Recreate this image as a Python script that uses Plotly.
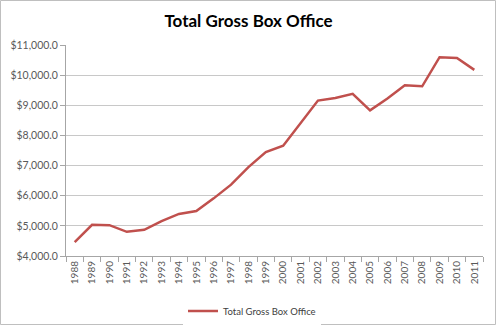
import plotly.graph_objects as go

# Annual total gross box office (millions of dollars)
years = [str(y) for y in range(1988, 2012)]
gross = [4458, 5033, 5022, 4803, 4871, 5154, 5396, 5494, 5912, 6366, 6949, 7448,
         7661, 8413, 9155, 9240, 9381, 8832, 9226, 9663, 9631, 10596, 10566, 10174]
series_name = "Total Gross Box Office"
chart_title = "Total Gross Box Office"

W, H = 497, 326
L, R, T, B = 66, 14, 45, 70
pw, ph = W - L - R, H - T - B

fig = go.Figure()
fig.add_trace(go.Scatter(
    x=years, y=gross, mode="lines", name=series_name,
    line=dict(color="#C0504D", width=2.5),
))

font_family = "Lato, 'Open Sans', sans-serif"

# outer chart border, expressed in paper coordinates of the plot area
def px_x(p):
    return (p - L) / pw

def px_y(p):
    return (H - B - p) / ph

fig.add_shape(type="rect", xref="paper", yref="paper",
              x0=px_x(0.5), x1=px_x(W - 1.5), y0=px_y(0.5), y1=px_y(H - 1.5),
              line=dict(color="#bfbfbf", width=1), layer="below")

fig.update_layout(
    width=W, height=H,
    margin=dict(l=L, r=R, t=T, b=B, autoexpand=False),
    paper_bgcolor="white", plot_bgcolor="white",
    title=dict(text=chart_title, x=0.5, xanchor="center", y=1 - 21 / H, yanchor="middle",
               font=dict(family=font_family, size=17, color="#000000", weight="bold")),
    showlegend=True,
    legend=dict(orientation="h", x=px_x(183), xanchor="left", y=px_y(311), yanchor="middle",
                font=dict(family=font_family, size=9.5, color="#404040"),
                itemwidth=30),
    xaxis=dict(
        type="category", showgrid=False, range=[-0.5, len(years) - 0.5],
        showline=True, linecolor="#a6a6a6", linewidth=1,
        ticks="outside", tickson="boundaries", ticklen=5, tickcolor="#a6a6a6",
        tickangle=-90, tickfont=dict(family=font_family, size=10, color="#595959"),
        automargin=False,
    ),
    yaxis=dict(
        range=[4000, 11000], dtick=1000, tickformat="$,.1f",
        showgrid=True, gridcolor="#c8c8c8", gridwidth=1,
        showline=True, linecolor="#a6a6a6", linewidth=1,
        ticks="outside", ticklen=5, tickcolor="#a6a6a6",
        tickfont=dict(family=font_family, size=10.5, color="#595959"),
        zeroline=False, automargin=False,
    ),
)

fig.write_html("out.html")
